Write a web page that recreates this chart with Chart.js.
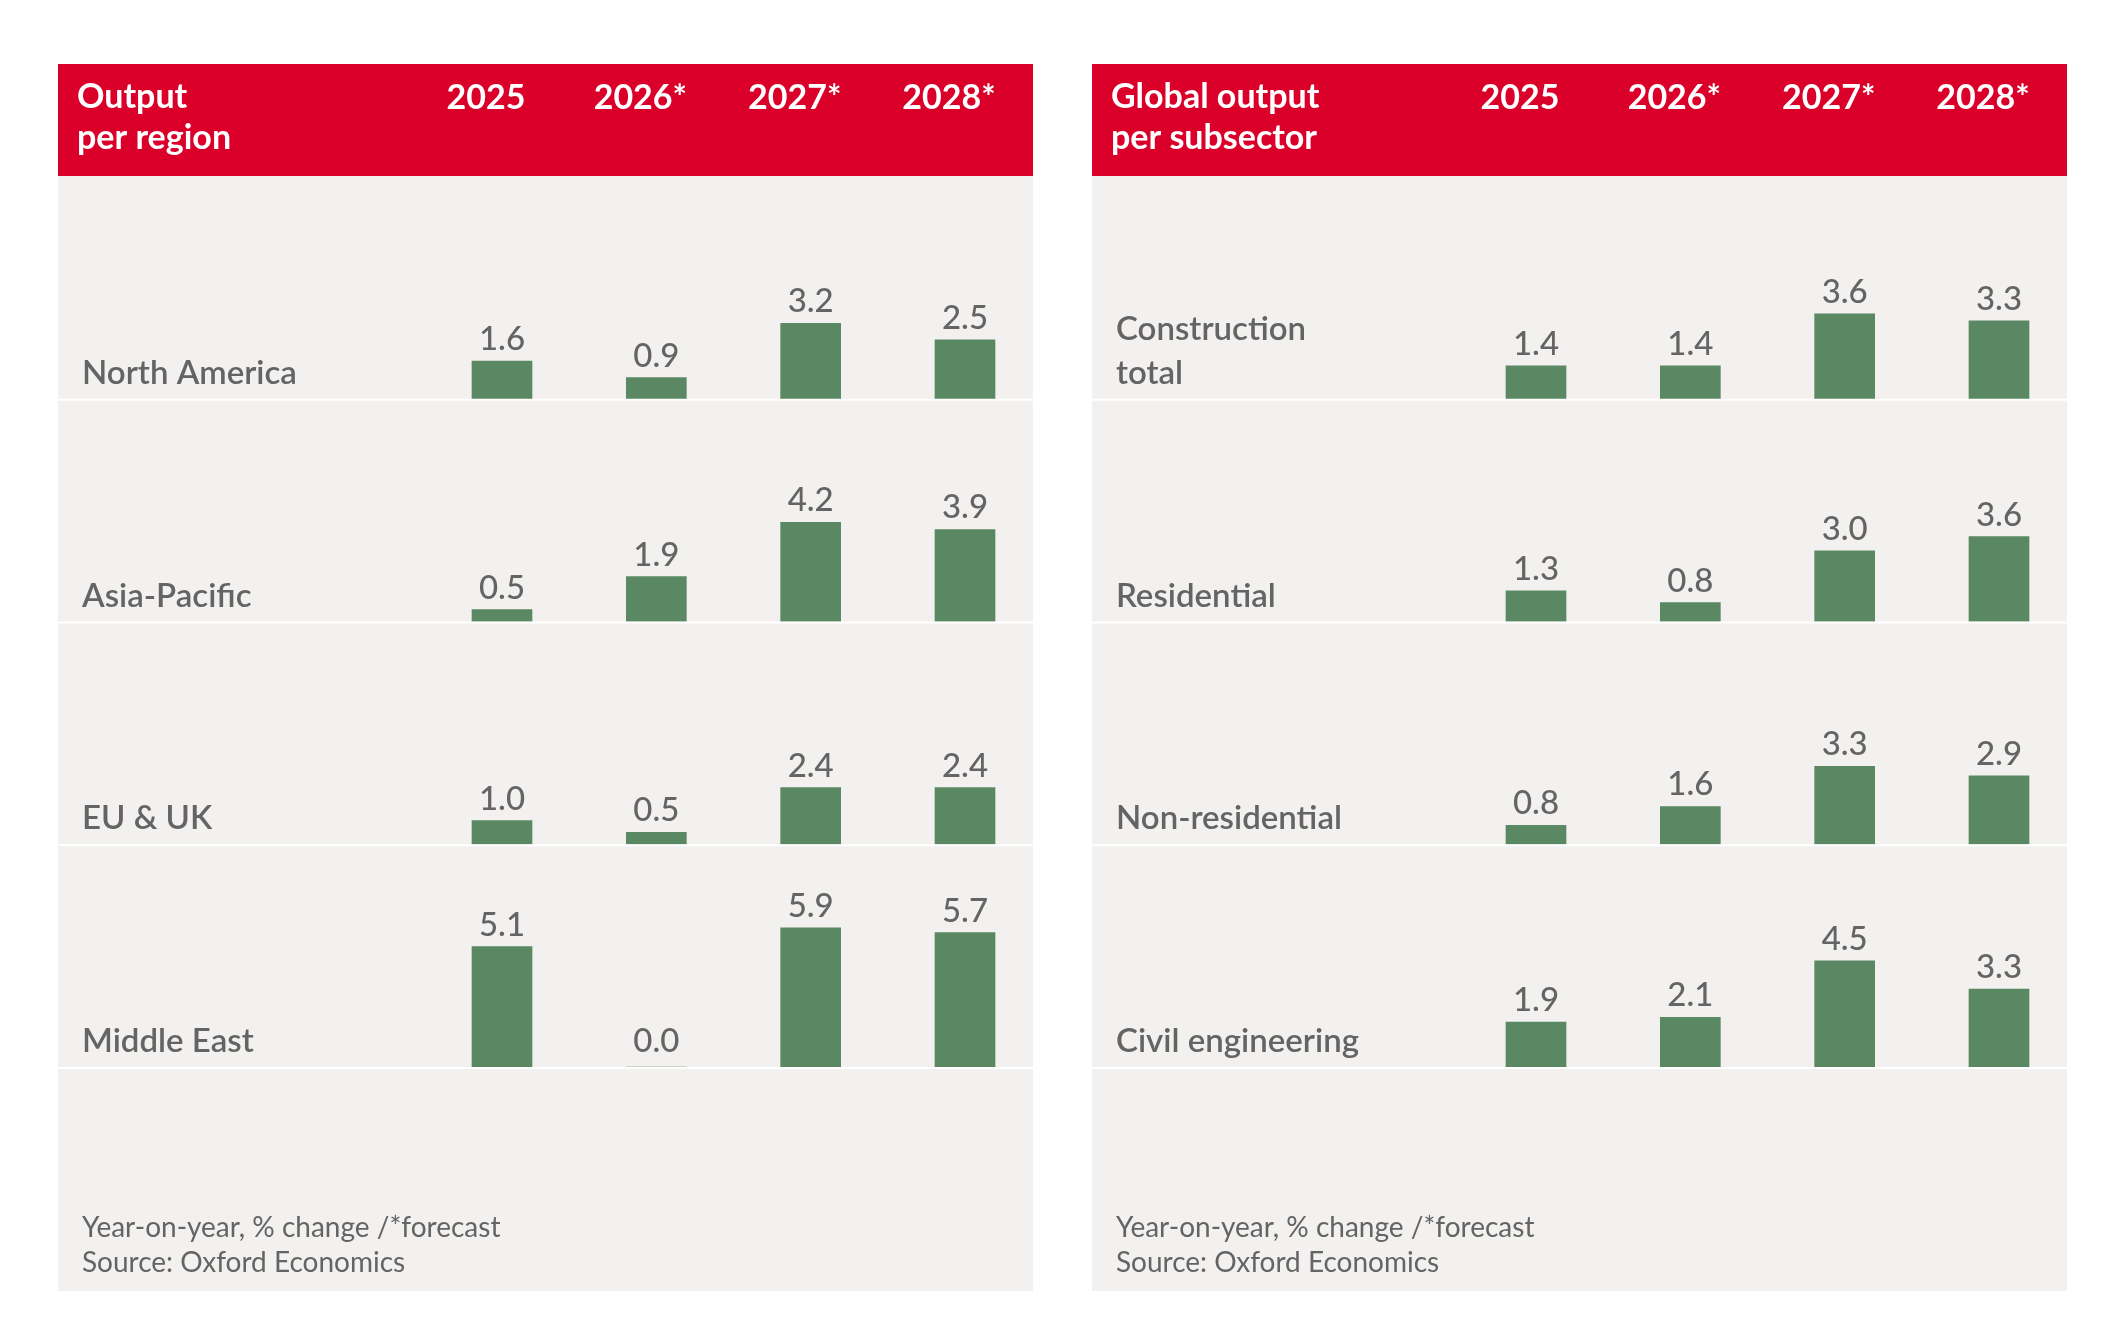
<!DOCTYPE html>
<html><head><meta charset="utf-8">
<script src="https://cdn.jsdelivr.net/npm/chart.js@4.4.1/dist/chart.umd.min.js"></script>
<style>
html,body{margin:0;padding:0;background:#fff;}
body{width:2126px;height:1335px;position:relative;overflow:hidden;}
.panel{position:absolute;top:64px;width:975px;height:1227px;}
#p1{left:58px;} #p2{left:1092px;}
</style></head><body>
<div class="panel" id="p1"><canvas id="c1"></canvas></div>
<div class="panel" id="p2"><canvas id="c2"></canvas></div>
<script>
const years = ['2025', '2026*', '2027*', '2028*'];

const regionTitle = ['Output', 'per region'];
const regions = [['North America'], ['Asia-Pacific'], ['EU & UK'], ['Middle East']];
const northAmerica = [1.6, 0.9, 3.2, 2.5];
const asiaPacific = [0.5, 1.9, 4.2, 3.9];
const euUk = [1.0, 0.5, 2.4, 2.4];
const middleEast = [5.1, 0.0, 5.9, 5.7];

const subsectorTitle = ['Global output', 'per subsector'];
const subsectors = [['Construction', 'total'], ['Residential'], ['Non-residential'], ['Civil engineering']];
const constructionTotal = [1.4, 1.4, 3.6, 3.3];
const residential = [1.3, 0.8, 3.0, 3.6];
const nonResidential = [0.8, 1.6, 3.3, 2.9];
const civilEngineering = [1.9, 2.1, 4.5, 3.3];

const footnote = ['Year-on-year, % change /*forecast', 'Source: Oxford Economics'];

const FONT = 'Lato, "Open Sans", sans-serif';
const RED = '#da0029';
const GREEN = '#5a8862';
const BG = '#f2f1ef';
const TEXT = '#646464';
const ROW_MAX = 9.44;

function makePanel(id, title, rowNames, rowValues) {
  const scales = {
    x: {
      type: 'category', position: 'top', offset: false,
      grid: { display: false, drawTicks: false }, border: { display: false },
      ticks: { color: '#ffffff', font: { family: FONT, size: 34, weight: 'bold' },
               padding: 58, labelOffset: -16, maxRotation: 0, autoSkip: false },
      afterFit: s => { s.height = 112; s.paddingLeft = 0; s.paddingRight = 0; }
    }
  };
  rowValues.forEach((v, r) => {
    scales['y' + r] = { type: 'linear', position: 'left', stack: 'rows', stackWeight: 1,
                        weight: rowValues.length - r, min: 0, max: ROW_MAX, display: false };
  });
  const datasets = rowValues.map((v, r) => ({
    data: v, yAxisID: 'y' + r, backgroundColor: GREEN, borderWidth: 0,
    barThickness: 60, grouped: false, clip: false
  }));

  const decor = {
    id: 'decor',
    beforeDraw(chart) {
      const ctx = chart.ctx, w = chart.width, h = chart.height;
      ctx.save();
      ctx.fillStyle = BG; ctx.fillRect(0, 0, w, h);
      ctx.fillStyle = RED; ctx.fillRect(0, 0, w, chart.scales.x.bottom);
      ctx.fillStyle = '#ffffff';
      ctx.font = 'bold 34px ' + FONT;
      ctx.textAlign = 'left'; ctx.textBaseline = 'alphabetic';
      title.forEach((t, i) => ctx.fillText(t, 19, 44 + i * 41));
      ctx.restore();
    },
    afterDatasetsDraw(chart) {
      const ctx = chart.ctx, w = chart.width;
      ctx.save();
      rowValues.forEach((vals, r) => {
        const sc = chart.scales['y' + r];
        const bottom = sc.bottom;
        ctx.fillStyle = '#ffffff';
        ctx.fillRect(0, bottom, w, 2);
        ctx.fillStyle = TEXT;
        ctx.textBaseline = 'alphabetic';
        ctx.textAlign = 'left';
        ctx.font = '600 33px ' + FONT;
        const lines = rowNames[r];
        lines.forEach((t, i) => ctx.fillText(t, 24, bottom - 15 - (lines.length - 1 - i) * 44));
        ctx.textAlign = 'center';
        ctx.font = '500 33px ' + FONT;
        chart.getDatasetMeta(r).data.forEach((el, i) => {
          ctx.fillText(vals[i].toFixed(1), el.x, Math.min(el.y - 11, bottom - 15));
        });
      });
      ctx.fillStyle = TEXT;
      ctx.textAlign = 'left';
      ctx.font = '400 28px ' + FONT;
      footnote.forEach((t, i) => ctx.fillText(t, 24, 1173 + i * 35));
      ctx.restore();
    }
  };

  return new Chart(document.getElementById(id), {
    type: 'bar',
    data: { labels: years, datasets },
    options: {
      responsive: true, maintainAspectRatio: false, animation: false,
      devicePixelRatio: 1,
      layout: { padding: { left: 444, right: 68, top: 0, bottom: 224 } },
      scales,
      plugins: { legend: { display: false }, tooltip: { enabled: false } },
      events: []
    },
    plugins: [decor]
  });
}

makePanel('c1', regionTitle, regions, [northAmerica, asiaPacific, euUk, middleEast]);
makePanel('c2', subsectorTitle, subsectors, [constructionTotal, residential, nonResidential, civilEngineering]);
</script>
</body></html>
